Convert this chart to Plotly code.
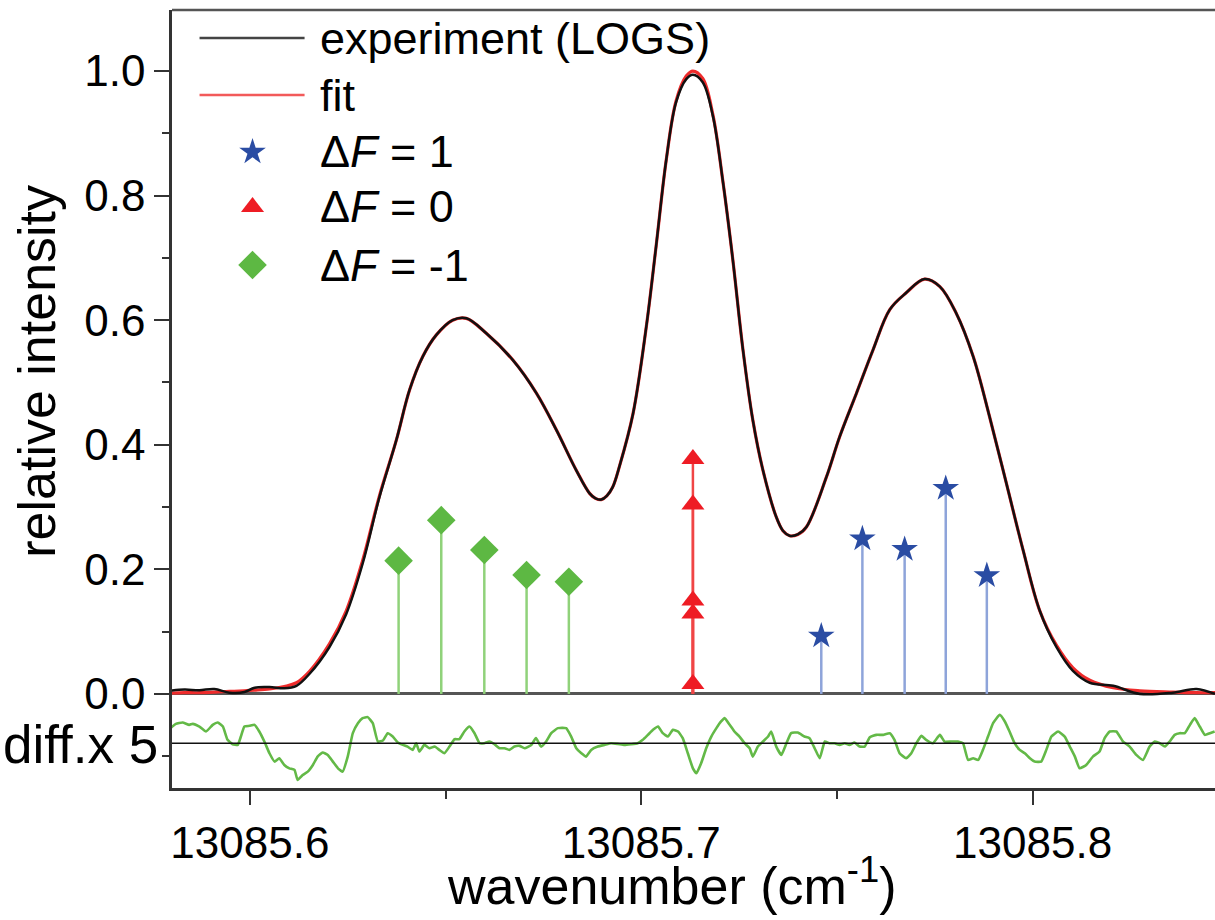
import plotly.graph_objects as go

# ---------------- data ----------------
exp_x = [13085.5794, 13085.5833, 13085.5871, 13085.5909, 13085.5948, 13085.5986, 13085.6012, 13085.6050,
         13085.6088, 13085.6119, 13085.6152, 13085.6203, 13085.6246, 13085.6288, 13085.6331, 13085.6374,
         13085.6408, 13085.6442, 13085.6476, 13085.6518, 13085.6553, 13085.6604, 13085.6672, 13085.6732,
         13085.6783, 13085.6834, 13085.6868, 13085.6883, 13085.6898, 13085.6912, 13085.6927, 13085.6945,
         13085.6979, 13085.7013, 13085.7038, 13085.7064, 13085.7089, 13085.7115, 13085.7132, 13085.7157,
         13085.7183, 13085.7209, 13085.7234, 13085.7260, 13085.7285, 13085.7311, 13085.7345, 13085.7362,
         13085.7379, 13085.7400, 13085.7422, 13085.7473, 13085.7507, 13085.7550, 13085.7592, 13085.7635,
         13085.7677, 13085.7724, 13085.7763, 13085.7805, 13085.7848, 13085.7890, 13085.7933, 13085.7976,
         13085.8018, 13085.8061, 13085.8103, 13085.8146, 13085.8206, 13085.8274, 13085.8358, 13085.8419,
         13085.8466]
exp_y = [0.005, 0.007, 0.006, 0.008, 0.002, 0.003, 0.010, 0.011,
         0.009, 0.013, 0.032, 0.075, 0.128, 0.209, 0.316, 0.407,
         0.488, 0.542, 0.576, 0.600, 0.603, 0.579, 0.536, 0.483,
         0.424, 0.359, 0.322, 0.314, 0.312, 0.318, 0.332, 0.367,
         0.450, 0.590, 0.719, 0.858, 0.950, 0.987, 0.994, 0.982,
         0.928, 0.821, 0.697, 0.552, 0.440, 0.359, 0.284, 0.262,
         0.254, 0.256, 0.268, 0.348, 0.413, 0.483, 0.552, 0.617,
         0.644, 0.666, 0.654, 0.611, 0.542, 0.445, 0.338, 0.230,
         0.134, 0.075, 0.037, 0.018, 0.013, 0.000, 0.002, 0.008,
         0.000]
fit_y = [0.001, 0.002, 0.002, 0.003, 0.004, 0.005, 0.006, 0.008,
         0.012, 0.018, 0.036, 0.080, 0.133, 0.214, 0.318, 0.407,
         0.488, 0.542, 0.576, 0.600, 0.603, 0.579, 0.536, 0.483,
         0.424, 0.359, 0.322, 0.314, 0.312, 0.318, 0.332, 0.367,
         0.450, 0.590, 0.719, 0.858, 0.952, 0.992, 1.000, 0.988,
         0.930, 0.821, 0.697, 0.552, 0.440, 0.359, 0.284, 0.262,
         0.254, 0.256, 0.268, 0.348, 0.413, 0.483, 0.552, 0.617,
         0.644, 0.666, 0.654, 0.611, 0.542, 0.445, 0.338, 0.230,
         0.134, 0.078, 0.042, 0.022, 0.010, 0.005, 0.003, 0.002,
         0.002]

# residual (x5), drawn around its own baseline
diff_offset = -0.0791
diff_x = [
    13085.5794, 13085.5811, 13085.5828, 13085.5845, 13085.5854, 13085.5871, 13085.5888, 13085.5905, 13085.5918, 13085.5931,
    13085.5943, 13085.5956, 13085.5969, 13085.5977, 13085.5986, 13085.5999, 13085.6012, 13085.6024, 13085.6037, 13085.6050,
    13085.6063, 13085.6075, 13085.6088, 13085.6101, 13085.6114, 13085.6122, 13085.6135, 13085.6148, 13085.6161, 13085.6173,
    13085.6186, 13085.6199, 13085.6212, 13085.6225, 13085.6237, 13085.6250, 13085.6263, 13085.6276, 13085.6288, 13085.6301,
    13085.6314, 13085.6327, 13085.6340, 13085.6352, 13085.6365, 13085.6378, 13085.6391, 13085.6403, 13085.6416, 13085.6425,
    13085.6433, 13085.6446, 13085.6459, 13085.6472, 13085.6484, 13085.6497, 13085.6510, 13085.6523, 13085.6535, 13085.6548,
    13085.6561, 13085.6574, 13085.6587, 13085.6599, 13085.6612, 13085.6625, 13085.6638, 13085.6651, 13085.6663, 13085.6676,
    13085.6689,
    13085.6702, 13085.6719, 13085.6731, 13085.6744, 13085.6757, 13085.6770, 13085.6787, 13085.6808, 13085.6821, 13085.6834,
    13085.6847, 13085.6859, 13085.6872, 13085.6889, 13085.6906, 13085.6923, 13085.6940, 13085.6957, 13085.6974, 13085.6991,
    13085.7004, 13085.7017, 13085.7030, 13085.7043, 13085.7055, 13085.7068, 13085.7081, 13085.7094, 13085.7106, 13085.7119,
    13085.7132, 13085.7141, 13085.7153, 13085.7166, 13085.7179, 13085.7192, 13085.7204, 13085.7213, 13085.7226, 13085.7238,
    13085.7251, 13085.7264, 13085.7277, 13085.7285, 13085.7298, 13085.7311, 13085.7324, 13085.7332, 13085.7345, 13085.7358,
    13085.7371, 13085.7383, 13085.7400, 13085.7417, 13085.7430, 13085.7443, 13085.7456, 13085.7469, 13085.7481, 13085.7494,
    13085.7507, 13085.7520, 13085.7532, 13085.7545, 13085.7558, 13085.7571,
    13085.7584, 13085.7601, 13085.7618, 13085.7635, 13085.7647, 13085.7660, 13085.7677, 13085.7690, 13085.7703, 13085.7716,
    13085.7728, 13085.7745, 13085.7763, 13085.7775, 13085.7792, 13085.7809, 13085.7822, 13085.7835, 13085.7848, 13085.7861,
    13085.7873, 13085.7886, 13085.7899, 13085.7916, 13085.7929, 13085.7941, 13085.7954, 13085.7967, 13085.7980, 13085.7993,
    13085.8005, 13085.8022, 13085.8035, 13085.8048, 13085.8065, 13085.8082, 13085.8095, 13085.8108, 13085.8120, 13085.8137,
    13085.8154, 13085.8171, 13085.8184, 13085.8197, 13085.8214, 13085.8231, 13085.8248, 13085.8265, 13085.8282, 13085.8299,
    13085.8312, 13085.8325, 13085.8338, 13085.8350, 13085.8363, 13085.8376, 13085.8389, 13085.8402, 13085.8414, 13085.8427,
    13085.8440, 13085.8453, 13085.8465]
diff_y = [
    0.0225, 0.0311, 0.0333, 0.0295, 0.0311, 0.0268, 0.0188, 0.0295, 0.0333, 0.0268,
    0.0054, -0.0016, -0.0027, 0.0107, 0.0268, 0.0279, 0.0295, 0.0188, 0.0027, -0.0161,
    -0.0295, -0.0242, -0.0349, -0.0403, -0.0429, -0.0590, -0.0510, -0.0456, -0.0349, -0.0215,
    -0.0150, -0.0188, -0.0295, -0.0403, -0.0456, -0.0215, 0.0161, 0.0322, 0.0403, 0.0419,
    0.0322, 0.0027, 0.0043, 0.0161, 0.0107, 0.0011, -0.0027, -0.0054, -0.0107, 0.0,
    -0.0134, -0.0027, -0.0081, -0.0054, -0.0107, -0.0161, -0.0054, 0.0064, 0.0064, 0.0188,
    0.0268, 0.0161, 0.0, 0.0, 0.0027, -0.0016, -0.0081, -0.0081, -0.0107, -0.0054,
    -0.0043,
    -0.0081, -0.0027, 0.0081, -0.0054, 0.0027, 0.0161, 0.0242, 0.0242, 0.0107, -0.0081,
    -0.0161, -0.0215, -0.0107, -0.0054, -0.0027, 0.0, -0.0011, -0.0027, -0.0016, 0.0,
    0.0054, 0.0134, 0.0215, 0.0268, 0.0161, 0.0107, 0.0215, 0.0188, 0.0081, -0.0161,
    -0.0403, -0.0483, -0.0322, -0.0081, 0.0107, 0.0242, 0.0349, 0.0403, 0.0295, 0.0188,
    0.0107, 0.0, -0.0081, -0.0215, -0.0054, 0.0027, 0.0107, 0.0188, -0.0054, -0.0188,
    0.0, 0.0161, 0.0172, 0.0107, 0.0081, -0.0081, -0.0242, 0.0027, 0.0, 0.0,
    -0.0027, 0.0, -0.0027, 0.0011, -0.0054, -0.0054,
    0.0097, 0.0134, 0.0134, 0.0161, 0.0054, -0.0161, -0.0242, -0.0161, 0.0, 0.0118,
    0.0054, 0.0, 0.0134, 0.0027, 0.0027, 0.0027, 0.0, -0.0268, -0.0242, -0.0268,
    -0.0107, 0.0107, 0.0322, 0.0456, 0.0349, 0.0188, 0.0, -0.0107, -0.0161, -0.0242,
    -0.0295, -0.0295, -0.0107, 0.0107, 0.0188, 0.0107, -0.0054, -0.0215, -0.0403, -0.0349,
    -0.0215, -0.0134, 0.0081, 0.0188, 0.0188, 0.0027, -0.0054, -0.0188, -0.0268, -0.0054,
    0.0027, 0.0, -0.0054, 0.0027, 0.0134, 0.0161, 0.0161, 0.0295, 0.0403, 0.0268,
    0.0134, 0.0161, 0.0188]

# hyperfine components
df_m1_x = [13085.6380, 13085.6489, 13085.6599, 13085.6707, 13085.6815]
df_m1_y = [0.214, 0.279, 0.231, 0.191, 0.180]
df_0_x = [13085.7132, 13085.7132, 13085.7132, 13085.7132, 13085.7132]
df_0_y = [0.377, 0.304, 0.150, 0.129, 0.016]
df_p1_x = [13085.7460, 13085.7565, 13085.7673, 13085.7778, 13085.7883]
df_p1_y = [0.093, 0.249, 0.232, 0.330, 0.190]

y_tick_vals = [0.0, 0.2, 0.4, 0.6, 0.8, 1.0]
y_tick_text = ["0.0", "0.2", "0.4", "0.6", "0.8", "1.0"]
x_tick_vals = [13085.6, 13085.7, 13085.8]
x_tick_text = ["13085.6", "13085.7", "13085.8"]

legend_labels = ["experiment (LOGS)", "fit", "Δ<i>F</i> = 1", "Δ<i>F</i> = 0", "Δ<i>F</i> = -1"]

# ---------------- styles ----------------
FONT = "Liberation Sans, Arial, Helvetica, sans-serif"
FS = 44
FS_TITLE = 52
C_EXP = "#111111"
C_FIT = "#ee2b2b"
C_DIFF = "#63b947"
C_STAR = "#2a4ca3"
C_STAR_STEM = "#8ea4da"
C_TRI = "#ee1c24"
C_TRI_STEM = "#f04545"
C_DIA = "#5db843"
C_DIA_STEM = "#90d27a"

fig = go.Figure()

# residual
fig.add_trace(go.Scatter(x=diff_x, y=[diff_offset + v for v in diff_y], mode="lines",
                         line=dict(color=C_DIFF, width=2.6, shape="spline", smoothing=0.4),
                         showlegend=False, hoverinfo="skip"))

# stems + markers
def stems(xs, ys, stem_color, stem_w, sym, msize, mcolor):
    return go.Scatter(
        x=xs, y=ys, mode="markers",
        marker=dict(symbol=sym, size=msize, color=mcolor, line=dict(width=0)),
        error_y=dict(type="data", symmetric=False, array=[0] * len(ys), arrayminus=list(ys),
                     width=0, thickness=stem_w, color=stem_color),
        showlegend=False, cliponaxis=False)

fig.add_trace(stems(df_m1_x, df_m1_y, C_DIA_STEM, 2.5, "diamond", 22, C_DIA))
fig.add_trace(stems(df_p1_x, df_p1_y, C_STAR_STEM, 2.5, "star", 20, C_STAR))
fig.add_trace(stems(df_0_x, df_0_y, C_TRI_STEM, 2.5, "triangle-up", 20, C_TRI))

# spectrum and fit
fig.add_trace(go.Scatter(x=exp_x, y=fit_y, mode="lines", line=dict(color=C_FIT, width=3.2, shape="spline", smoothing=1.0),
                         showlegend=False, hoverinfo="skip"))
fig.add_trace(go.Scatter(x=exp_x, y=exp_y, mode="lines", line=dict(color=C_EXP, width=2.5, shape="spline", smoothing=1.0),
                         showlegend=False, hoverinfo="skip"))

# ---------------- manual legend (overlay axes in 0..1 units) ----------------
leg_line_x = [0.0264, 0.1271]
leg_rows_y = [0.964, 0.8907, 0.8175, 0.7468, 0.6722]
leg_marker_x = 0.0772
leg_text_x = 0.1396
fig.add_trace(go.Scatter(x=leg_line_x, y=[leg_rows_y[0]] * 2, mode="lines", line=dict(color="#444444", width=2.5),
                         xaxis="x2", yaxis="y2", showlegend=False, hoverinfo="skip"))
fig.add_trace(go.Scatter(x=leg_line_x, y=[leg_rows_y[1]] * 2, mode="lines", line=dict(color="#f25a5a", width=2.5),
                         xaxis="x2", yaxis="y2", showlegend=False, hoverinfo="skip"))
for yy, sym, col, sz in [(leg_rows_y[2], "star", C_STAR, 20), (leg_rows_y[3], "triangle-up", C_TRI, 20),
                         (leg_rows_y[4], "diamond", C_DIA, 22)]:
    fig.add_trace(go.Scatter(x=[leg_marker_x], y=[yy], mode="markers", marker=dict(symbol=sym, size=sz, color=col),
                             xaxis="x2", yaxis="y2", showlegend=False, hoverinfo="skip"))

annotations = []
for lab, yy in zip(legend_labels, leg_rows_y):
    annotations.append(dict(x=leg_text_x, y=yy, xref="paper", yref="paper", text=lab, showarrow=False,
                            xanchor="left", yanchor="middle", font=dict(family=FONT, size=45, color="black")))

annotations.append(dict(x=0, y=0.535, xref="paper", yref="paper", text="relative intensity", textangle=-90,
                        showarrow=False, xanchor="center", yanchor="middle", xshift=-135,
                        font=dict(family=FONT, size=52, color="black")))
annotations.append(dict(x=0.479, y=0, xref="paper", yref="paper", text="wavenumber (cm<sup>-1</sup>)",
                        showarrow=False, xanchor="center", yanchor="bottom", yshift=-129,
                        font=dict(family=FONT, size=FS_TITLE, color="black")))
annotations.append(dict(x=0, y=diff_offset - 0.002, xref="paper", yref="y", text="diff.x 5", showarrow=False,
                        xanchor="right", yanchor="middle", xshift=-12,
                        font=dict(family=FONT, size=53, color="black")))

shapes = [
    dict(type="line", xref="paper", yref="paper", x0=0, x1=1, y0=1, y1=1, line=dict(color="#555555", width=2.5)),
    dict(type="line", xref="paper", yref="y", x0=0, x1=1, y0=diff_offset, y1=diff_offset,
         line=dict(color="#111111", width=1.6)),
]

fig.update_layout(
    width=1215, height=920,
    margin=dict(l=172, r=0, t=10, b=132),
    paper_bgcolor="white", plot_bgcolor="white",
    font=dict(family=FONT, size=FS, color="black"),
    showlegend=False,
    annotations=annotations,
    shapes=shapes,
    xaxis=dict(range=[13085.5801, 13085.8466], tickvals=x_tick_vals, ticktext=x_tick_text,
               ticks="outside", ticklen=14, tickwidth=2, tickcolor="#333333",
               showline=True, linecolor="#333333", linewidth=2.5, mirror=False,
               showgrid=False, zeroline=False,
               minor=dict(tickmode="linear", tick0=13085.55, dtick=0.05, ticks="outside", ticklen=8,
                          tickwidth=2, tickcolor="#333333", showgrid=False),
               tickfont=dict(family=FONT, size=FS, color="black")),
    yaxis=dict(range=[-0.151, 1.098], tickvals=y_tick_vals, ticktext=y_tick_text,
               ticks="outside", ticklen=15, tickwidth=2, tickcolor="#333333",
               showline=True, linecolor="#333333", linewidth=2.5, mirror=False,
               showgrid=False, zeroline=True, zerolinecolor="#555555", zerolinewidth=2.5,
               minor=dict(tickmode="linear", tick0=-0.1, dtick=0.2, ticks="outside", ticklen=7,
                          tickwidth=2, tickcolor="#333333", showgrid=False),
               tickfont=dict(family=FONT, size=FS, color="black")),
    xaxis2=dict(range=[0, 1], overlaying="x", visible=False, fixedrange=True),
    yaxis2=dict(range=[0, 1], overlaying="y", visible=False, fixedrange=True),
)

fig.write_html("out.html")
